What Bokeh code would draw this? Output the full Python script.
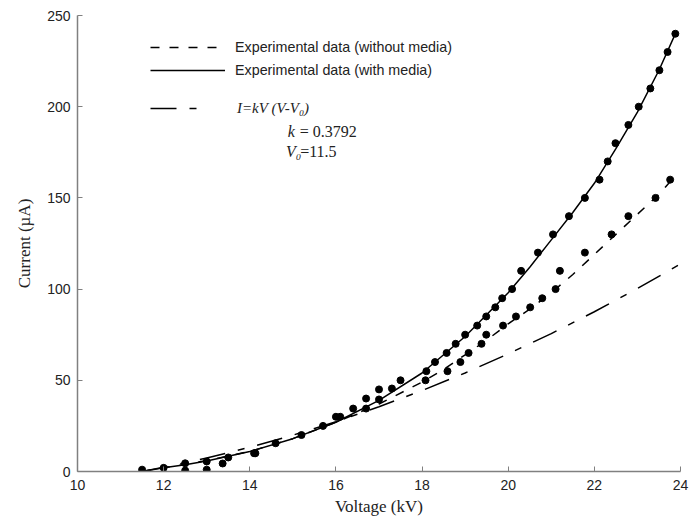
from bokeh.plotting import figure
from bokeh.models import Range1d, Legend, LegendItem, Label, FixedTicker
from bokeh.embed import file_html
from bokeh.resources import INLINE

# Measured points: experimental data (with media)
with_v = [11.5, 12.0, 12.5, 13.0, 13.5, 14.1, 14.6, 15.2, 15.7, 16.1, 16.4, 16.7, 17.0, 17.5,
          18.1, 18.3, 18.57, 18.78, 19.0, 19.28, 19.49, 19.7, 19.86, 20.09, 20.3, 20.69, 21.04,
          21.41, 21.78, 22.12, 22.31, 22.49, 22.79, 23.03, 23.3, 23.51, 23.7, 23.88]
with_i = [1, 2, 4.5, 5.5, 7.7, 10, 15.5, 20, 25, 30, 34.5, 40, 45, 50,
          55, 60, 65, 70, 75, 80, 85, 90, 95, 100, 110, 120, 130,
          140, 150, 160, 170, 180, 190, 200, 210, 220, 230, 240]

# Measured points: experimental data (without media)
without_v = [12.5, 13.0, 13.37, 14.13, 16.0, 16.7, 17.0, 17.3, 18.08, 18.59, 18.89, 19.08,
             19.38, 19.49, 19.88, 20.18, 20.51, 20.79, 21.1, 21.2, 21.78, 22.4, 22.79, 23.42, 23.76]
without_i = [0.5, 1, 4.4, 10, 30, 34.5, 39.5, 45.5, 50, 55, 60, 65,
             70, 75, 80, 85, 90, 95, 100, 110, 120, 130, 140, 150, 160]

# Fitted curve (with media)
solid_v = [11.5, 12, 12.5, 13, 14, 15, 16, 17, 18, 19, 20, 20.5, 21, 21.5, 22, 22.5, 23, 23.5, 23.9]
solid_i = [0, 2, 3.7, 5.8, 11, 18, 27, 39, 54, 74, 98, 112, 127, 142, 158, 177, 197, 220, 241]

# Fitted curve (without media)
dash_v = [11.5, 12, 13, 14, 15, 16, 17, 18, 18.5, 19, 19.5, 20, 20.5, 21, 21.5, 22, 22.5, 23, 23.5, 23.8]
dash_i = [0, 2, 6, 11, 18, 27, 37, 49, 56, 64, 72, 81, 89, 98, 108, 119, 130, 141, 152, 160]

# Model curve I = kV(V - V0)
model_v = [11.5, 12, 13, 14, 15, 16, 17, 18, 19, 20, 21, 22, 23, 24]
model_i = [0, 2.3, 7.4, 13.3, 19.9, 27.3, 35.5, 44.4, 54.0, 64.5, 75.6, 87.6, 100.3, 113.8]

x_ticks = [10, 12, 14, 16, 18, 20, 22, 24]
y_ticks = [0, 50, 100, 150, 200, 250]

legend_labels = ["Experimental data (without media)", "Experimental data (with media)", "I=kV (V-V\u2080)"]

p = figure(width=693, height=525, output_backend="svg", toolbar_location=None,
           x_range=Range1d(10, 24), y_range=Range1d(0, 250),
           min_border_left=77, min_border_right=13, min_border_top=15, min_border_bottom=54)
p.outline_line_color = None
p.xgrid.visible = False
p.ygrid.visible = False

r_dash = p.line(dash_v, dash_i, line_color="black", line_width=1.5, line_dash="9 10")
r_solid = p.line(solid_v, solid_i, line_color="black", line_width=1.5)
r_model = p.line(model_v, model_i, line_color="black", line_width=1.5, line_dash="26 13 7 13")
p.scatter(with_v, with_i, size=7, color="black")
p.scatter(without_v, without_i, size=7, color="black")

for ax, ticks in ((p.xaxis, x_ticks), (p.yaxis, y_ticks)):
    ax.ticker = FixedTicker(ticks=ticks)
    ax.axis_line_color = "#808080"
    ax.axis_line_width = 1.5
    ax.major_tick_line_color = "#808080"
    ax.major_tick_in = 5
    ax.major_tick_out = 0
    ax.minor_tick_line_color = None
    ax.major_label_text_font = "Liberation Sans"
    ax.major_label_text_font_size = "14px"
    ax.major_label_text_color = "#222222"
    ax.axis_label_text_font = "Liberation Serif"
    ax.axis_label_text_font_style = "normal"
    ax.axis_label_text_font_size = "17px"
    ax.axis_label_text_color = "#222222"

p.xaxis.axis_label = "Voltage (kV)"
p.yaxis.axis_label = "Current (\u00b5A)"
p.xaxis.major_label_standoff = 8
p.xaxis.axis_label_standoff = 4
p.yaxis.major_label_standoff = 7
p.yaxis.axis_label_standoff = 10

leg1 = Legend(items=[LegendItem(label=legend_labels[0], renderers=[r_dash]),
                     LegendItem(label=legend_labels[1], renderers=[r_solid])],
              location=(73, 391), padding=0, margin=0, spacing=3,
              glyph_width=75, glyph_height=20, label_height=20, label_standoff=10,
              label_text_font="Liberation Sans", label_text_font_size="14.3px",
              label_text_color="#222222",
              border_line_color=None, background_fill_alpha=0)
leg2 = Legend(items=[LegendItem(label=legend_labels[2], renderers=[r_model])],
              location=(73, 353), padding=0, margin=0,
              glyph_width=50, glyph_height=20, label_height=20, label_standoff=37,
              label_text_font="Liberation Serif", label_text_font_style="italic",
              label_text_font_size="15px", label_text_color="#222222",
              border_line_color=None, background_fill_alpha=0)
p.add_layout(leg1)
p.add_layout(leg2)

# Parameter annotation
ann = [("k", 14.88, 186.5, "italic"), ("= 0.3792", 15.16, 186.5, "normal"),
       ("V\u2080", 14.84, 175.5, "italic"), ("=11.5", 15.17, 175.5, "normal")]
for txt, ax_, ay, st in ann:
    p.add_layout(Label(x=ax_, y=ay, text=txt, text_font="Liberation Serif",
                       text_font_style=st, text_font_size="16px",
                       text_baseline="middle", text_color="#222222"))

open("out.html", "w").write(file_html(p, INLINE))
